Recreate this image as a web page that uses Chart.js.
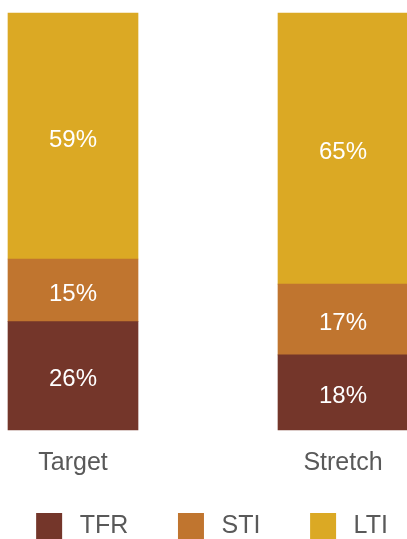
<!DOCTYPE html>
<html>
<head>
<meta charset="utf-8">
<script src="https://cdn.jsdelivr.net/npm/chart.js@4"></script>
<style>
  html, body { margin: 0; padding: 0; background: #fff; }
  #box { width: 407px; height: 539px; }
</style>
</head>
<body>
<div id="box"><canvas id="grafico"></canvas></div>
<script>
const categories = ['Target', 'Stretch'];
const seriesNames = ['TFR', 'STI', 'LTI'];
const tfr = [26, 18];
const sti = [15, 17];
const lti = [59, 65];
const colori = ['#74362A', '#C0752F', '#DBA924'];

const grigio = '#595959';
const font = "'Liberation Sans', Arial, sans-serif";

// etichette bianche al centro di ogni segmento
const etichette = {
  id: 'etichette',
  afterDatasetsDraw(chart) {
    const c = chart.ctx;
    c.save();
    c.fillStyle = '#ffffff';
    c.font = '24px ' + font;
    c.textAlign = 'center';
    c.textBaseline = 'middle';
    chart.data.datasets.forEach((ds, i) => {
      chart.getDatasetMeta(i).data.forEach((el, j) => {
        c.fillText(ds.data[j] + '%', el.x, (el.y + el.base) / 2 + 4);
      });
    });
    c.restore();
  }
};

const spazi = '     ';

new Chart(document.getElementById('grafico').getContext('2d'), {
  type: 'bar',
  data: {
    labels: categories,
    datasets: [
      { label: seriesNames[0], data: tfr, backgroundColor: colori[0] },
      { label: seriesNames[1], data: sti, backgroundColor: colori[1] },
      { label: seriesNames[2], data: lti, backgroundColor: colori[2] }
    ].map(d => Object.assign(d, { barThickness: 130, clip: false, borderWidth: 0 }))
  },
  options: {
    responsive: true,
    maintainAspectRatio: false,
    animation: false,
    layout: { padding: { top: 13, left: 17, right: 0, bottom: -10 } },
    plugins: {
      tooltip: { enabled: false },
      legend: {
        position: 'bottom',
        labels: {
          boxWidth: 26,
          boxHeight: 26,
          padding: 15,
          color: grigio,
          font: { family: font, size: 25 },
          generateLabels: chart => chart.data.datasets.map((d, i) => ({
            text: i < 2 ? '\u2009' + d.label + spazi : '\u2009' + d.label,
            fillStyle: d.backgroundColor,
            strokeStyle: d.backgroundColor,
            lineWidth: 0,
            fontColor: grigio,
            datasetIndex: i
          }))
        }
      }
    },
    scales: {
      x: {
        stacked: true,
        offset: false,
        grid: { display: false, drawTicks: false },
        border: { display: false },
        ticks: { color: grigio, padding: 18, font: { family: font, size: 25 } },
        afterFit: s => { s.height = 68; }
      },
      y: {
        stacked: true,
        min: 0,
        max: 100,
        grid: { display: false, drawTicks: false },
        border: { display: false },
        ticks: { display: false },
        afterFit: s => { s.width = 56; }
      },
      y2: {
        position: 'right',
        grid: { display: false, drawTicks: false },
        border: { display: false },
        ticks: { display: false },
        afterFit: s => { s.width = 64; }
      }
    }
  },
  plugins: [etichette]
});
</script>
</body>
</html>
